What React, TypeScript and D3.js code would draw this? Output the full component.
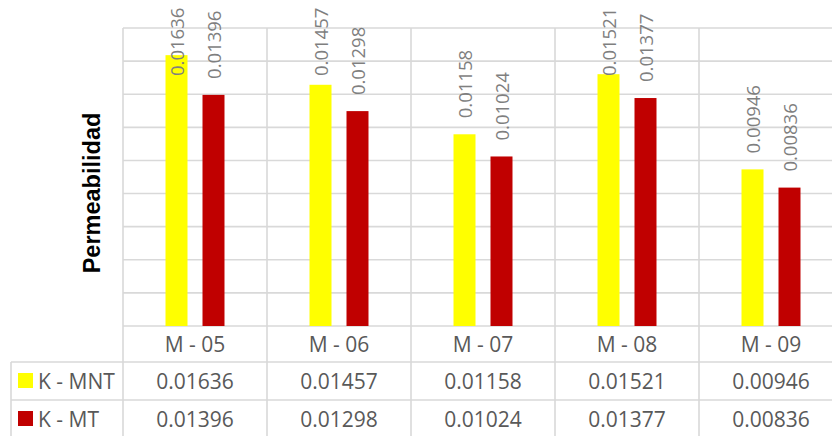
import React from 'react';
import * as d3 from 'd3';

const categories = ['M - 05', 'M - 06', 'M - 07', 'M - 08', 'M - 09'];
const seriesNames = ['K - MNT', 'K - MT'];
const kMNT = [0.01636, 0.01457, 0.01158, 0.01521, 0.00946];
const kMT = [0.01396, 0.01298, 0.01024, 0.01377, 0.00836];
const seriesValues = [kMNT, kMT];
const seriesColors = ['#FFFF00', '#C00000'];
const yMax = 0.018;
const yTitle = 'Permeabilidad';

const W = 832;
const H = 436;
const plotLeft = 123;
const plotTop = 28;
const plotBottom = 326;
const catRowBottom = 362;
const row1Bottom = 400;
const row2Bottom = 438;
const tableLeft = 11;
const grid = '#d9d9d9';
const textGray = '#595959';
const labelGray = '#7f7f7f';
const font = "'Open Sans', 'Liberation Sans', sans-serif";

export default function App() {
  const x0 = d3.scaleBand<string>().domain(categories).range([plotLeft, plotLeft + 144 * categories.length]).padding(0);
  const x1 = d3
    .scaleBand<string>()
    .domain(seriesNames)
    .range([0, x0.bandwidth()])
    .paddingInner(15 / 37)
    .paddingOuter(1.149);
  const y = d3.scaleLinear().domain([0, yMax]).range([plotBottom, plotTop]);
  const ticks = y.ticks(9);
  const rowTops = [catRowBottom, row1Bottom];
  const rowBottoms = [row1Bottom, row2Bottom];

  return (
    <svg width={W} height={H} style={{ position: 'absolute', left: 0, top: 0, background: '#fff' }}>
      <rect x={0} y={0} width={W} height={H} fill="#fff" />
      {ticks.map((t) => (
        <line key={'g' + t} x1={plotLeft} x2={W} y1={y(t)} y2={y(t)} stroke={grid} strokeWidth={1.6} />
      ))}
      {categories.map((c) => (
        <line key={'v' + c} x1={x0(c)} x2={x0(c)} y1={plotTop} y2={H} stroke={grid} strokeWidth={1.6} />
      ))}
      <line x1={tableLeft} x2={W} y1={catRowBottom} y2={catRowBottom} stroke={grid} strokeWidth={1.6} />
      <line x1={tableLeft} x2={W} y1={row1Bottom} y2={row1Bottom} stroke={grid} strokeWidth={1.6} />
      <line x1={tableLeft} x2={tableLeft} y1={catRowBottom} y2={H} stroke={grid} strokeWidth={1.6} />

      {seriesNames.map((s, si) =>
        categories.map((c, ci) => {
          const v = seriesValues[si][ci];
          const bx = (x0(c) as number) + (x1(s) as number);
          return (
            <rect
              key={s + c}
              x={bx}
              y={y(v)}
              width={x1.bandwidth()}
              height={plotBottom - y(v)}
              fill={seriesColors[si]}
            />
          );
        })
      )}

      {seriesNames.map((s, si) =>
        categories.map((c, ci) => {
          const v = seriesValues[si][ci];
          const cx = (x0(c) as number) + (x1(s) as number) + x1.bandwidth() / 2;
          const ly = Math.max(y(v) - 16, 76);
          return (
            <text
              key={'l' + s + c}
              transform={`translate(${cx},${ly}) rotate(-90)`}
              textAnchor="start"
              dominantBaseline="central"
              fontFamily={font}
              fontSize={18.5}
              fill={labelGray}
            >
              {v.toFixed(5)}
            </text>
          );
        })
      )}

      <text
        transform={`translate(100,193) rotate(-90)`}
        textAnchor="middle"
        fontFamily="'Liberation Sans', Arial, sans-serif"
        fontWeight="bold"
        fontSize={23.5}
        fill="#000"
      >
        {yTitle}
      </text>

      {categories.map((c) => (
        <text
          key={'c' + c}
          x={(x0(c) as number) + x0.bandwidth() / 2}
          y={(plotBottom + catRowBottom) / 2}
          textAnchor="middle"
          dominantBaseline="central"
          fontFamily={font}
          fontSize={21}
          fill={textGray}
        >
          {c}
        </text>
      ))}

      {seriesNames.map((s, si) => {
        const cy = (rowTops[si] + Math.min(rowBottoms[si], H)) / 2 + (si === 1 ? 1 : 0);
        return (
          <g key={'r' + s}>
            <rect x={18} y={cy - 8} width={15} height={15} fill={seriesColors[si]} />
            <text x={38} y={cy} dominantBaseline="central" fontFamily={font} fontSize={21} fill={textGray}>
              {s}
            </text>
            {categories.map((c, ci) => (
              <text
                key={'t' + s + c}
                x={(x0(c) as number) + x0.bandwidth() / 2}
                y={cy}
                textAnchor="middle"
                dominantBaseline="central"
                fontFamily={font}
                fontSize={21}
                fill={textGray}
              >
                {seriesValues[si][ci].toFixed(5)}
              </text>
            ))}
          </g>
        );
      })}
    </svg>
  );
}
